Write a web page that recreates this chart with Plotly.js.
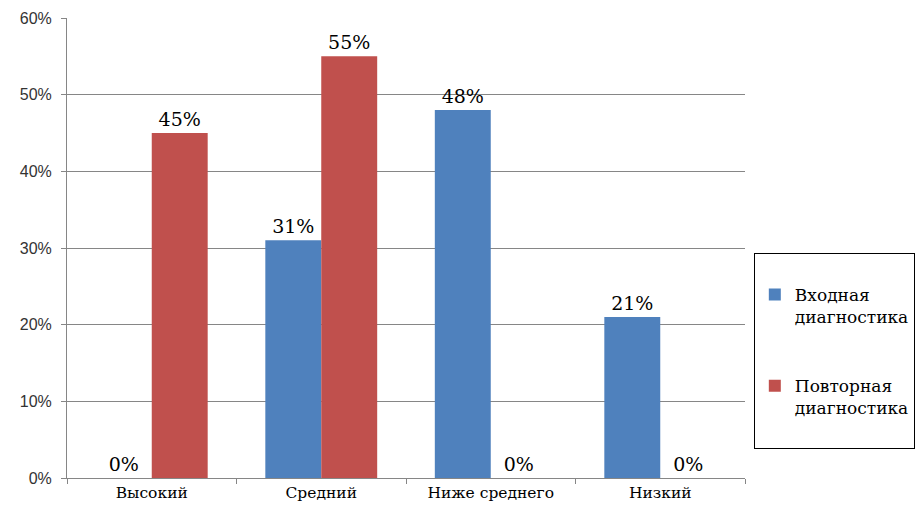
<!DOCTYPE html>
<html><head><meta charset="utf-8">
<script src="https://cdn.plot.ly/plotly-3.0.1.min.js"></script>
<style>html,body{margin:0;padding:0;background:#fff}#chart{width:916px;height:512px}</style>
</head><body><div id="chart"></div>
<script>
var categories = ["Высокий", "Средний", "Ниже среднего", "Низкий"];
var seriesNames = ["Входная<br>диагностика", "Повторная<br>диагностика"];
var entryValues = [0, 31, 48, 21];
var repeatValues = [45, 55, 0, 0];
var yTickVals = [0, 10, 20, 30, 40, 50, 60];
var yTickText = ["0%", "10%", "20%", "30%", "40%", "50%", "60%"];

function labels(v){ return v.map(function(x){ return x + "%"; }); }

var serif = "DejaVu Serif";
var traces = [
  {type:"bar", name:seriesNames[0], legendgroup:"a", x:categories, y:entryValues, text:labels(entryValues),
   textposition:"outside", cliponaxis:false, textfont:{family:serif,size:19,color:"#000"},
   marker:{color:"#4f81bd"}, hoverinfo:"none"},
  {type:"bar", name:seriesNames[1] + "<br> ", legendgroup:"b", x:categories, y:repeatValues, text:labels(repeatValues),
   textposition:"outside", cliponaxis:false, textfont:{family:serif,size:19,color:"#000"},
   marker:{color:"#c0504d"}, hoverinfo:"none"}
];
var layout = {
  width:916, height:512,
  margin:{l:67, r:171, t:18, b:34, autoexpand:false},
  paper_bgcolor:"#fff", plot_bgcolor:"#fff",
  barmode:"group", bargap:0.34, bargroupgap:0,
  showlegend:true,
  xaxis:{type:"category", tickson:"boundaries", ticks:"outside", ticklen:5, tickcolor:"#868686",
    showgrid:false, showline:true, linecolor:"#868686", linewidth:1,
    tickfont:{family:serif, size:15.5, color:"#000"}, zeroline:false},
  yaxis:{range:[0,60], tickvals:yTickVals, ticktext:yTickText, ticks:"outside", ticklen:5,
    tickcolor:"#868686", showgrid:true, gridcolor:"#868686", gridwidth:1, showline:true,
    linecolor:"#868686", zeroline:false, ticklabelstandoff:6,
    tickfont:{family:"Liberation Sans", size:16, color:"#333"}},
  legend:{x:1.013, xanchor:"left", y:0.49, yanchor:"top", bordercolor:"#000", borderwidth:1,
    bgcolor:"#fff", font:{family:serif, size:17, color:"#000"}, traceorder:"grouped", valign:"top",
    tracegroupgap:44, itemwidth:30, title:{text:" ", font:{size:18}}},
  font:{family:serif}
};
Plotly.newPlot("chart", traces, layout, {displayModeBar:false, staticPlot:true});
</script></body></html>
